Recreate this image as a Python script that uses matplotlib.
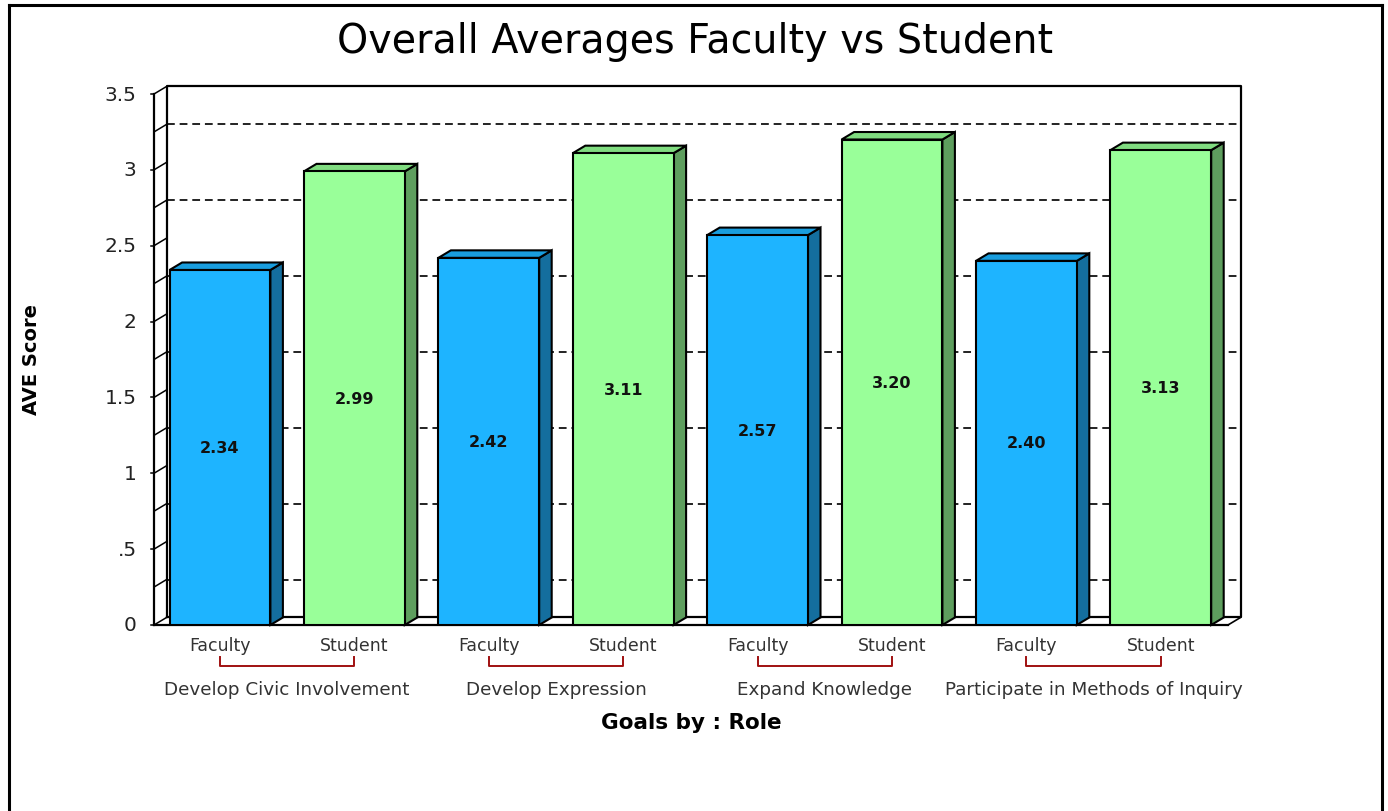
import numpy as np
import matplotlib.pyplot as plt
from matplotlib.patches import Polygon
from matplotlib.lines import Line2D

goals = ['Develop Civic Involvement', 'Develop Expression', 'Expand Knowledge',
         'Participate in Methods of Inquiry']
roles = ['Faculty', 'Student']
faculty = [2.34, 2.42, 2.57, 2.40]
student = [2.99, 3.11, 3.20, 3.13]
ytick_vals = [0, 0.5, 1, 1.5, 2, 2.5, 3, 3.5]
ytick_labels = ['0', '.5', '1', '1.5', '2', '2.5', '3', '3.5']

front = {'Faculty': '#1eb4ff', 'Student': '#99ff99'}
side = {'Faculty': '#146e9e', 'Student': '#5e9e5e'}
top = {'Faculty': '#199dde', 'Student': '#80dc80'}

W, H = 1388, 812
fig = plt.figure(figsize=(W / 100, H / 100), dpi=100)
ax = fig.add_axes([154 / W, 1 - 626 / H, 1074 / W, 531 / H])
xmin, xmax = -0.491, 7.50
ymin, ymax = 0, 3.5
ax.set_xlim(xmin, xmax)
ax.set_ylim(ymin, ymax)
ax.axis('off')

# depth offset of the fake 3D, in data units
dx = 12.5 / 134.36
dy = 7.5 / 151.7

# figure frame (open at the bottom)
for xs, ys in [([9, 9], [812, 6]), ([9, 1382], [6, 6]), ([1382, 1382], [6, 812])]:
    fig.add_artist(Line2D([x / W for x in xs], [1 - y / H for y in ys],
                          color='black', lw=2.2, transform=fig.transFigure))

# back wall and floor
kw = dict(color='black', lw=1.6, clip_on=False, zorder=2)
ax.plot([xmin + dx, xmax + dx, xmax + dx, xmin + dx, xmin + dx],
        [ymin + dy, ymin + dy, ymax + dy, ymax + dy, ymin + dy], **kw)
ax.plot([xmin, xmin], [ymin, ymax], **kw)
ax.plot([xmin, xmax], [ymin, ymin], **kw)
ax.plot([xmax, xmax + dx], [ymin, ymin + dy], color='black', lw=1.2, clip_on=False)

quarters = np.arange(0, 3.51, 0.25)
for q in quarters:
    ax.plot([xmin, xmin + dx], [q, q + dy], color='black', lw=1.1, clip_on=False)
for q in quarters[1::2]:
    ax.plot([xmin + dx, xmax + dx], [q + dy, q + dy], color='#222222', lw=1.4,
            ls=(0, (4, 2.5)), clip_on=False, zorder=1)
for v, lab in zip(ytick_vals, ytick_labels):
    ax.plot([xmin - 0.025, xmin], [v, v], color='black', lw=1.1, clip_on=False)
    ax.text(xmin - 0.13, v, lab, ha='right', va='center', fontsize=14.5,
            color='#222222')

# bars
vals = []
cats = []
for f, s in zip(faculty, student):
    vals += [f, s]
    cats += roles
pos = np.arange(len(vals))
bw = 0.75
for p, v, c in zip(pos, vals, cats):
    ax.bar(p, v, width=bw, color=front[c], edgecolor='black', lw=1.5, zorder=4)
    r = p + bw / 2
    l = p - bw / 2
    ax.add_patch(Polygon([(r, 0), (r + dx, dy), (r + dx, v + dy), (r, v)],
                         closed=True, facecolor=side[c], edgecolor='black',
                         lw=1.5, zorder=3, clip_on=False))
    ax.add_patch(Polygon([(l, v), (l + dx, v + dy), (r + dx, v + dy), (r, v)],
                         closed=True, facecolor=top[c], edgecolor='black',
                         lw=1.5, zorder=3, clip_on=False))
    ax.text(p, v / 2, f'{v:.2f}', ha='center', va='center', fontsize=11.5,
            fontweight='bold', color='#111111', zorder=5)

# category labels, brackets and group labels
tr = ax.get_xaxis_transform()
for p, c in zip(pos, cats):
    ax.text(p, -20 / 531, c, transform=tr, ha='center', va='center',
            fontsize=12.5, color='#333333')
for i, g in enumerate(goals):
    a, b = pos[2 * i], pos[2 * i + 1]
    ax.plot([a, a, b, b], [-32 / 531, -41 / 531, -41 / 531, -32 / 531],
            transform=tr, color='#a01010', lw=1.4, clip_on=False)
    ax.text((a + b) / 2, -64 / 531, g, transform=tr, ha='center', va='center',
            fontsize=13.2, color='#333333')

ax.text(0.5, -97 / 531, 'Goals by : Role', transform=ax.transAxes, ha='center',
        va='center', fontsize=15.5, fontweight='bold')
fig.text(32 / W, 1 - 360 / H, 'AVE Score', rotation=90, ha='center', va='center',
         fontsize=14, fontweight='bold')
fig.text(695 / W, 1 - 42 / H, 'Overall Averages Faculty vs Student', ha='center',
         va='center', fontsize=28.5)

fig.savefig('out.png', dpi=100)
